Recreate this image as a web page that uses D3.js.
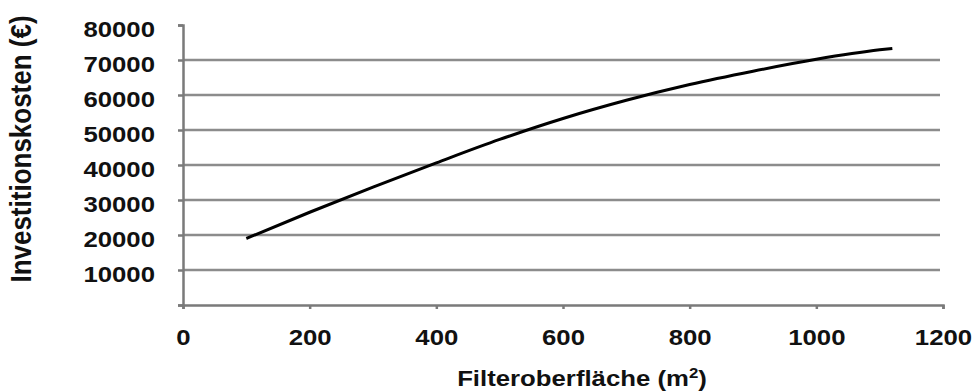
<!DOCTYPE html>
<html>
<head>
<meta charset="utf-8">
<script src="https://cdn.jsdelivr.net/npm/d3@7"></script>
<style>
  body { margin: 0; background: #fff; }
  svg text { font-family: 'Liberation Sans', Arial, sans-serif; font-weight: bold; fill: #111; }
</style>
</head>
<body>
<svg id="chart" width="977" height="392"></svg>
<script>
// data
const flaeche = [100, 200, 300, 400, 500, 600, 700, 800, 900, 1000, 1100, 1120];
const kosten = [19000, 26500, 33700, 40600, 47300, 53300, 58500, 63000, 66800, 70200, 72900, 73300];
const xTicks = [0, 200, 400, 600, 800, 1000, 1200];
const yTicks = [0, 10000, 20000, 30000, 40000, 50000, 60000, 70000, 80000];
const gridValues = [10000, 20000, 30000, 40000, 50000, 60000, 70000];

const svg = d3.select('#chart'),
  plotLeft = 183, plotRight = 943, plotTop = 25, plotBottom = 305,
  gridColor = '#8c8c8c',
  stretch = 'scale(1.12,1)';

const x = d3.scaleLinear().domain([0, 1200]).range([plotLeft, plotRight]);
const y = d3.scaleLinear().domain([0, 80000]).range([plotBottom, plotTop]);

// horizontal grid lines
svg.append('g')
  .selectAll('line')
  .data(gridValues)
  .join('line')
  .attr('x1', plotLeft)
  .attr('x2', plotRight - 3)
  .attr('y1', d => y(d))
  .attr('y2', d => y(d))
  .attr('stroke', gridColor)
  .attr('stroke-width', 2.5);

// y axis
const yAxis = svg.append('g')
  .attr('transform', 'translate(' + plotLeft + ',0)')
  .call(d3.axisLeft(y).tickValues(yTicks).tickSize(5).tickPadding(20)
    .tickFormat(d => d === 0 ? '' : d));

// x axis
const xAxis = svg.append('g')
  .attr('transform', 'translate(0,' + plotBottom + ')')
  .call(d3.axisBottom(x).tickValues(xTicks).tickSize(4).tickPadding(20)
    .tickFormat(d3.format('d')));

[yAxis, xAxis].forEach(g => {
  g.select('.domain').attr('stroke', '#7a7a7a').attr('stroke-width', 2.5);
  g.selectAll('.tick line').attr('stroke', '#7a7a7a').attr('stroke-width', 2.5);
  g.selectAll('text')
    .attr('font-size', 23)
    .attr('font-family', "'Liberation Sans', Arial, sans-serif")
    .attr('fill', '#111')
    .attr('transform', stretch);
});
yAxis.selectAll('text').attr('dy', '0.5em');

// the curve
const line = d3.line()
  .x((d, i) => x(flaeche[i]))
  .y(d => y(d))
  .curve(d3.curveMonotoneX);

svg.append('path')
  .datum(kosten)
  .attr('d', line)
  .attr('fill', 'none')
  .attr('stroke', '#000')
  .attr('stroke-width', 3);

// axis titles
const xt = svg.append('text')
  .attr('transform', 'translate(582,386) ' + stretch)
  .attr('text-anchor', 'middle')
  .attr('font-size', 23);
xt.append('tspan').text('Filteroberfläche (m');
xt.append('tspan').attr('font-size', 15).attr('dy', -8).text('2');
xt.append('tspan').attr('dy', 8).text(')');

svg.append('text')
  .attr('transform', 'translate(31,149) ' + stretch + ' rotate(-90)')
  .attr('text-anchor', 'middle')
  .attr('font-size', 26)
  .text('Investitionskosten (€)');
</script>
</body>
</html>
